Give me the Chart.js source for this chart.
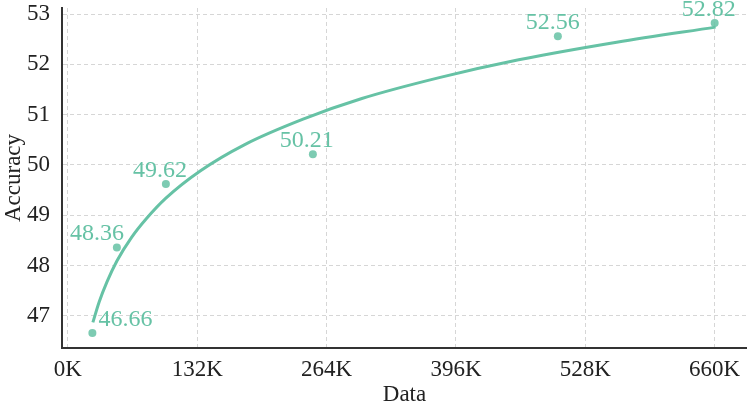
<!DOCTYPE html>
<html>
<head>
<meta charset="utf-8">
<script src="https://cdn.jsdelivr.net/npm/chart.js@4/dist/chart.umd.min.js"></script>
<style>
  html, body { margin: 0; padding: 0; background: #fff; }
  #wrap { width: 747px; height: 409px; }
</style>
</head>
<body>
<div id="wrap"><canvas id="myChart" width="747" height="409"></canvas></div>
<script>
// measured points (data size in K, accuracy)
const dataSizes = [25, 50, 100, 250, 500, 660]
const accuracy = [46.66, 48.36, 49.62, 50.21, 52.56, 52.82]

// fitted trend line
const curveX = [25.5, 32, 40, 50, 65, 80, 100, 135, 180, 240, 300, 380, 460, 560, 661]
const curveY = [46.87, 47.28, 47.68, 48.09, 48.56, 48.93, 49.34, 49.88, 50.40, 50.91, 51.32, 51.74, 52.09, 52.44, 52.74]

const yTicks = [47, 48, 49, 50, 51, 52, 53]

const green = '#66c2a5'
const serif = "'Liberation Serif', 'DejaVu Serif', serif"

// label nudges (px) for each point label
const labelShiftX = [33, -20, -6, -6, -5, -6]

const pointLabels = {
    id: 'pointLabels',
    afterDatasetsDraw(chart) {
        const meta = chart.getDatasetMeta(1)
        const ctx = chart.ctx
        ctx.save()
        ctx.font = '24px ' + serif
        ctx.fillStyle = green
        ctx.textAlign = 'center'
        ctx.textBaseline = 'alphabetic'
        meta.data.forEach((pt, i) => {
            ctx.fillText(accuracy[i].toFixed(2), pt.x + labelShiftX[i], pt.y - 7)
        })
        ctx.restore()
    }
}

const myChartRef = document.getElementById('myChart').getContext('2d')

new Chart(myChartRef, {
    type: 'scatter',
    data: {
        datasets: [
            {
                label: 'fit',
                data: curveX.map((x, i) => ({x: x, y: curveY[i]})),
                showLine: true,
                borderColor: green,
                borderWidth: 3,
                pointRadius: 0,
                cubicInterpolationMode: 'monotone',
                order: 2
            },
            {
                label: 'Accuracy',
                data: dataSizes.map((x, i) => ({x: x, y: accuracy[i]})),
                backgroundColor: 'rgba(102,194,165,0.85)',
                borderWidth: 0,
                pointRadius: 4,
                order: 1
            }
        ]
    },
    options: {
        responsive: false,
        animation: false,
        devicePixelRatio: 1,
        layout: { autoPadding: false, padding: { top: 8, right: 0, left: 0, bottom: 0 } },
        plugins: {
            legend: { display: false },
            tooltip: { enabled: false }
        },
        scales: {
            x: {
                type: 'linear',
                min: -6,
                max: 693,
                afterFit: (s) => {
                    s.height = 61
                    s.paddingLeft = 0
                    s.paddingRight = 0
                },
                ticks: {
                    stepSize: 132,
                    includeBounds: false,
                    color: '#222',
                    padding: 8,
                    font: { family: serif, size: 23 },
                    callback: (v) => v + 'K'
                },
                grid: { color: '#d6d6d6', lineWidth: 1, drawTicks: false },
                border: { display: true, color: '#333', width: 2, dash: [4, 3] },
                title: {
                    display: true,
                    text: 'Data',
                    color: '#222',
                    padding: 0,
                    font: { family: serif, size: 23 }
                }
            },
            y: {
                min: 46.36,
                max: 53.12,
                afterFit: (s) => {
                    s.width = 62
                    s.paddingTop = 0
                    s.paddingBottom = 0
                },
                afterBuildTicks: (s) => { s.ticks = yTicks.map(v => ({value: v})) },
                ticks: {
                    color: '#222',
                    padding: 12,
                    font: { family: serif, size: 23 }
                },
                grid: { color: '#d6d6d6', lineWidth: 1, drawTicks: false },
                border: { display: true, color: '#333', width: 2, dash: [4, 3] },
                title: {
                    display: true,
                    text: 'Accuracy',
                    color: '#222',
                    padding: 0,
                    font: { family: serif, size: 23 }
                }
            }
        }
    },
    plugins: [pointLabels]
})
</script>
</body>
</html>
